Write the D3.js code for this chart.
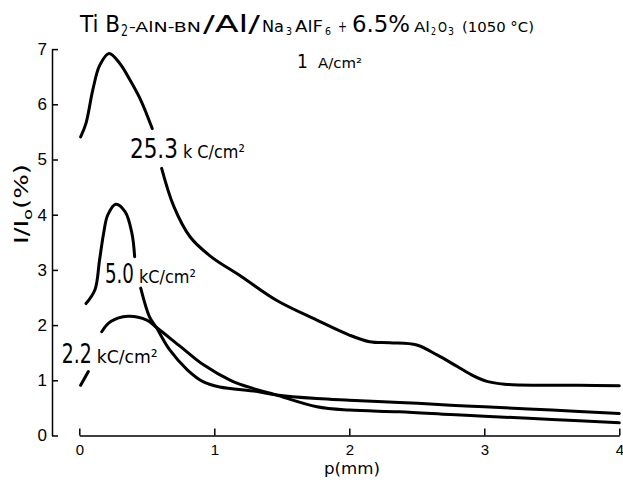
<!DOCTYPE html>
<html>
<head>
<meta charset="utf-8">
<script src="https://cdn.jsdelivr.net/npm/d3@7"></script>
<style>
  body { margin: 0; background: #fff; }
  svg { display: block; font-family: "DejaVu Sans Condensed", "Liberation Sans Narrow", "DejaVu Sans", sans-serif; }
  .curve { fill: none; stroke: #000; stroke-width: 3; stroke-linecap: round; stroke-linejoin: round; }
  .axis path, .axis line { stroke: #000; stroke-width: 1.5; }
  .axis text { font-family: inherit; fill: #000; }
</style>
</head>
<body>
<script>
// values, p in mm, I/I0 in %
// null = break in the line where the label sits
const pmm25 = [0.01, 0.05, 0.10, 0.15, 0.22, 0.30, 0.38, 0.46, 0.54, 0.575, 0.61, 0.70, 0.82, 0.97, 1.2, 1.46, 1.76, 2.0, 2.15, 2.3, 2.5, 2.65, 2.8, 2.92, 3.02, 3.15, 3.4, 3.7, 4.0];
const val25 = [5.41, 5.66, 6.26, 6.70, 6.92, 6.74, 6.42, 6.05, 5.56, null, 4.84, 4.15, 3.60, 3.25, 2.88, 2.45, 2.09, 1.82, 1.70, 1.68, 1.64, 1.46, 1.25, 1.08, 0.98, 0.93, 0.91, 0.91, 0.90];

const pmm50 = [0.05, 0.116, 0.15, 0.18, 0.21, 0.27, 0.34, 0.39, 0.41, 0.43, 0.455, 0.52, 0.57, 0.67, 0.80, 0.92, 1.04, 1.31, 1.45, 1.76, 2.0, 2.37, 2.75, 3.0, 3.5, 4.0];
const val50 = [2.39, 2.64, 3.18, 3.66, 3.99, 4.19, 4.05, 3.66, 3.24, null, 2.67, 2.15, 1.96, 1.55, 1.19, 0.97, 0.88, 0.80, 0.74, 0.67, 0.64, 0.60, 0.55, 0.52, 0.46, 0.40];

const pmm22 = [0.01, 0.067, 0.11, 0.166, 0.23, 0.36, 0.50, 0.57, 0.75, 0.92, 1.12, 1.29, 1.45, 1.76, 2.0, 2.37, 2.75, 3.0, 3.5, 4.0];
const val22 = [0.91, 1.16, null, 1.88, 2.06, 2.16, 2.09, 1.96, 1.61, 1.28, 1.00, 0.85, 0.74, 0.52, 0.46, 0.43, 0.38, 0.35, 0.29, 0.23];

const xTicks = [0, 1, 2, 3, 4];
const yTicks = [0, 1, 2, 3, 4, 5, 6, 7];
const chargeNums = ["25.3", "5.0", "2.2"];
const chargeUnits = ["k C/cm²", "kC/cm²", "kC/cm²"];

// ======================================================

var W = 623, H = 485;

var svg = d3.select("body").append("svg")
  .attr("width", W)
  .attr("height", H);

var x = d3.scaleLinear().domain([0, 4]).range([79.3, 619.3]);
var y = d3.scaleLinear().domain([0, 7]).range([435.5, 49.1]);

// x axis, ticks pointing up
var xAxis = svg.append("g")
  .attr("class", "axis")
  .attr("transform", "translate(0," + y(0) + ")")
  .call(d3.axisBottom(x).tickValues(xTicks).tickFormat(d3.format("d"))
    .tickSizeInner(-7).tickSizeOuter(0).tickPadding(9));
xAxis.selectAll("text").style("font-size", "15px");

// y axis sits off to the left, ticks pointing right
var yAxis = svg.append("g")
  .attr("class", "axis")
  .attr("transform", "translate(52,0)")
  .call(d3.axisLeft(y).tickValues(yTicks).tickFormat(d3.format("d"))
    .tickSizeInner(-6).tickSizeOuter(0).tickPadding(5));
yAxis.selectAll("text").style("font-size", "17px");

// axis titles
svg.append("text")
  .attr("x", 352).attr("y", 474)
  .attr("text-anchor", "middle")
  .style("font-size", "16px")
  .attr("textLength", 56).attr("lengthAdjust", "spacingAndGlyphs")
  .text("p(mm)");

var ylab = svg.append("text")
  .attr("transform", "translate(28,204) rotate(-90)")
  .attr("text-anchor", "middle")
  .attr("textLength", 80).attr("lengthAdjust", "spacingAndGlyphs")
  .style("font-size", "19px");
ylab.append("tspan").text("I/I");
ylab.append("tspan").attr("dy", 4).style("font-size", "13px").text("o");
ylab.append("tspan").attr("dy", -4).text("(%)");

// curves
var line = d3.line()
  .defined(function (d) { return d[1] !== null; })
  .x(function (d) { return x(d[0]); })
  .y(function (d) { return y(d[1]); })
  .curve(d3.curveCatmullRom.alpha(0.5));

var series = [
  d3.zip(pmm25, val25),
  d3.zip(pmm50, val50),
  d3.zip(pmm22, val22)
];

svg.selectAll("path.curve")
  .data(series)
  .enter()
  .append("path")
  .attr("class", "curve")
  .attr("d", line);

// labels on the curves (anchor in data units), widths as in the print
var notePos = [[0.375, 5.02], [0.19, 2.76], [-0.13, 1.32]];
var numLen = [48, 29, 30];
var unitLen = [62, 57, 61];

chargeNums.forEach(function (n, i) {
  var x0 = x(notePos[i][0]);
  var t = svg.append("text")
    .attr("y", y(notePos[i][1]));
  t.append("tspan").attr("x", x0)
    .style("font-size", "26px")
    .attr("textLength", numLen[i]).attr("lengthAdjust", "spacingAndGlyphs")
    .text(n);
  t.append("tspan").attr("x", x0 + numLen[i] + 5)
    .style("font-size", "18px")
    .attr("textLength", unitLen[i]).attr("lengthAdjust", "spacingAndGlyphs")
    .text(chargeUnits[i]);
});

// title, built piece by piece because of the mixed sizes
var titleParts = [
  // text, x, width, size, shift
  ["Ti B", 80, 40, 23, 0],
  ["2", 121, 7, 15, 4],
  ["-AlN-BN", 129, 72, 14, 0],
  ["/Al/", 203, 57, 23, 0],
  ["Na", 262, 22, 15, 0],
  ["3", 286, 6, 11, 3],
  ["AlF", 295, 28, 15, 0],
  ["6", 325, 6, 11, 3],
  ["+", 338, 9, 15, 0],
  ["6.5%", 352, 58, 23, 0],
  ["Al", 414, 16, 14, 0],
  ["2", 431, 5, 10, 3],
  ["O", 438, 9, 14, 0],
  ["3", 448, 6, 10, 3],
  ["(1050 °C)", 462, 72, 14, 0]
];
var title = svg.append("text").attr("y", 31.7);
titleParts.forEach(function (p) {
  title.append("tspan")
    .attr("x", p[1])
    .attr("y", 31.7 + p[4])
    .attr("textLength", p[2])
    .attr("lengthAdjust", "spacingAndGlyphs")
    .style("font-size", p[3] + "px")
    .text(p[0]);
});

var sub = svg.append("text").attr("y", 68.3);
sub.append("tspan").attr("x", 297).style("font-size", "19px").text("1");
sub.append("tspan").attr("x", 318).style("font-size", "14px")
  .attr("textLength", 44).attr("lengthAdjust", "spacingAndGlyphs")
  .text("A/cm²");
</script>
</body>
</html>
